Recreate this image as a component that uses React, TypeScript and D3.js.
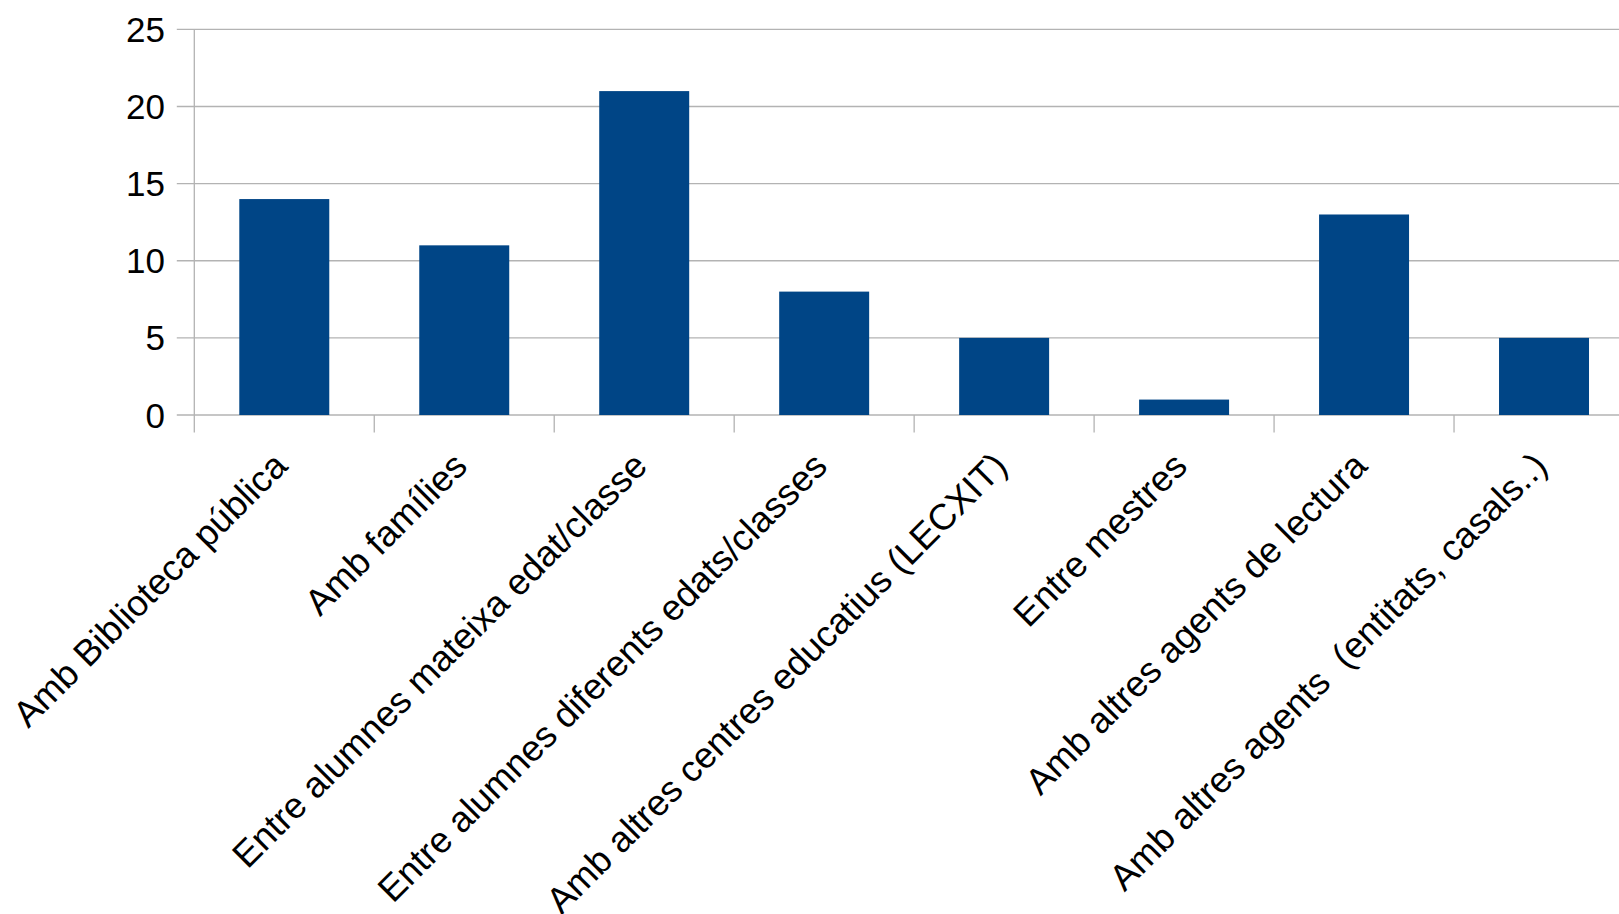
import React from "react";
import * as d3 from "d3";

const categories = [
  "Amb Biblioteca pública",
  "Amb famílies",
  "Entre alumnes mateixa edat/classe",
  "Entre alumnes diferents edats/classes",
  "Amb altres centres educatius (LECXIT)",
  "Entre mestres",
  "Amb altres agents de lectura",
  "Amb altres agents  (entitats, casals..)",
];
const values = [14, 11, 21, 8, 5, 1, 13, 5];
const yTicks = [0, 5, 10, 15, 20, 25];

const W = 1619;
const H = 914;
const left = 194.3;
const right = 1634;
const top = 29.4;
const bottom = 415;
const tickLen = 17.5;
const grid = "#b3b3b3";
const barColor = "#004586";
const font = "'Liberation Sans', Arial, sans-serif";

export default function App() {
  const x = d3.scaleBand<string>().domain(categories).range([left, right]).paddingInner(0.5).paddingOuter(0.25);
  const band = d3.scaleBand<string>().domain(categories).range([left, right]);
  const y = d3.scaleLinear().domain([0, 25]).range([bottom, top]);
  const boundaries = categories.map((c) => band(c) as number);

  return (
    <div style={{ position: "absolute", left: 0, top: 0 }}>
      <svg width={W} height={H} style={{ display: "block", background: "#fff" }}>
        {yTicks.map((t) => (
          <g key={t}>
            <line x1={left - tickLen} x2={W} y1={y(t)} y2={y(t)} stroke={grid} strokeWidth={1.3} />
            <text
              x={165}
              y={y(t)}
              dy="0.36em"
              textAnchor="end"
              fontFamily={font}
              fontSize={35}
              fill="#000"
            >
              {t}
            </text>
          </g>
        ))}
        <line x1={left} x2={left} y1={top} y2={bottom + tickLen} stroke={grid} strokeWidth={1.3} />
        {boundaries.slice(1).map((b, i) => (
          <line key={i} x1={b} x2={b} y1={bottom} y2={bottom + tickLen} stroke={grid} strokeWidth={1.3} />
        ))}
        {categories.map((c, i) => (
          <rect
            key={c}
            x={x(c)}
            width={x.bandwidth()}
            y={y(values[i])}
            height={y(0) - y(values[i])}
            fill={barColor}
          />
        ))}
        {categories.map((c) => {
          const cx = (band(c) as number) + band.bandwidth() / 2 + 5;
          const cy = bottom + 53;
          return (
            <text
              key={c}
              transform={`translate(${cx},${cy}) rotate(-45)`}
              textAnchor="end"
              fontFamily={font}
              fontSize={36.5}
              fill="#000"
              style={{ whiteSpace: "pre" }}
            >
              {c}
            </text>
          );
        })}
      </svg>
    </div>
  );
}
